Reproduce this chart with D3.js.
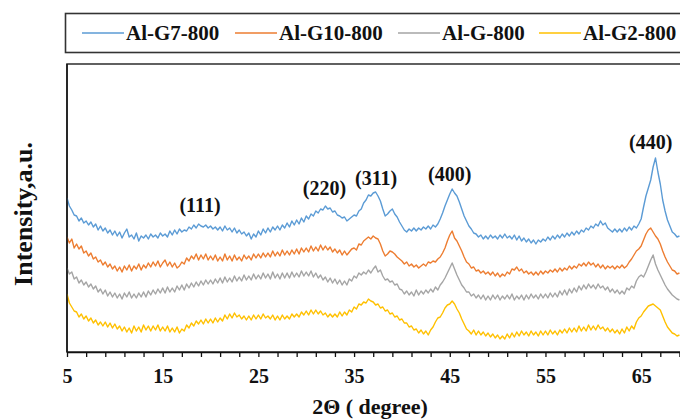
<!DOCTYPE html>
<html>
<head>
<meta charset="utf-8">
<script src="https://cdn.jsdelivr.net/npm/d3@7/dist/d3.min.js"></script>
<style>
  html, body { margin: 0; padding: 0; background: #fff; }
  svg { display: block; }
  text { font-family: "Liberation Serif", Tinos, "Times New Roman", "DejaVu Serif", serif; font-weight: bold; fill: #111; }
</style>
</head>
<body>
<svg id="chart" width="680" height="420"></svg>
<script>
// XRD patterns, 2θ sampled every 0.25° from 5° to 69°
const twoTheta = d3.range(0, 257).map(i => 5 + i * 0.25);

const seriesNames = ["Al-G7-800", "Al-G10-800", "Al-G-800", "Al-G2-800"];
const seriesColors = ["#5B9BD5", "#ED7D31", "#A5A5A5", "#FFC000"];

// Intensities (a.u., curves stacked with vertical offsets)
const alG7 = [
  154,146,142,137, 136,131,134,129, 131,127,130,125, 128,122,126,121,
  124,119,122,117, 121,116,120,114, 119,123,115,117, 113,119,111,116,
  114,117,113,118, 115,117,114,119, 116,118,115,121, 117,122,118,123,
  120,122,121,125, 123,127,124,128, 126,125,127,124, 126,123,125,122,
  125,121,126,122, 124,120,124,119, 122,118,120,116, 119,113,118,115,
  121,117,123,119, 124,120,125,122, 126,122,127,124, 129,125,131,127,
  132,128,134,130, 136,133,138,136, 141,139,143,142, 146,143,144,140,
  141,137,136,134, 135,131,133,135, 137,136,141,143, 149,152,157,156,
  159,160,156,151, 143,136,138,141, 143,138,135,130, 126,122,120,123,
  121,124,121,124, 122,125,123,126, 123,127,125,128, 133,139,146,152,
  158,163,159,156, 150,143,136,131, 126,123,119,118, 115,117,113,116,
  113,117,114,116, 113,117,114,118, 114,116,113,117, 112,116,111,114,
  110,113,109,112, 108,112,110,113, 111,115,112,116, 113,117,114,118,
  115,119,116,120, 117,121,118,122, 120,124,122,126, 124,128,126,131,
  127,129,124,122, 120,123,120,123, 120,124,121,125, 122,126,124,128,
  133,145,156,164, 172,185,194,180, 168,152,141,132, 126,120,118,115,
  116
];
const alG10 = [
  115,109,113,104, 108,103,106,99, 101,96,99,93, 95,90,92,87,
  90,85,88,83, 86,81,85,80, 86,82,87,81, 86,83,88,82,
  87,84,89,85, 90,86,91,85, 89,92,86,90, 85,89,84,86,
  90,88,94,91, 96,93,98,92, 97,93,98,92, 96,92,97,91,
  95,91,98,92, 96,91,97,92, 95,91,97,93, 96,92,98,94,
  98,94,99,95, 99,95,101,96, 100,96,102,97, 101,97,102,98,
  103,98,104,100, 104,100,106,101, 105,101,107,102, 106,102,105,100,
  103,99,102,97, 101,97,100,103, 104,102,108,107, 111,113,115,113,
  116,114,113,108, 101,96,98,101, 100,98,95,93, 91,88,90,86,
  88,85,87,84, 86,88,86,90, 89,91,90,93, 95,99,104,111,
  117,121,114,111, 106,101,95,90, 88,84,85,81, 82,79,81,78,
  80,77,80,76, 79,75,78,76, 80,78,83,82, 85,81,83,79,
  81,78,80,77, 80,77,81,78, 81,79,82,80, 83,80,84,81,
  84,82,86,83, 86,84,88,86, 89,86,90,87, 89,85,88,84,
  87,83,86,84, 86,83,86,84, 87,84,86,90, 93,97,101,103,
  106,112,118,122, 124,120,116,113, 108,101,95,90, 86,82,81,78,
  79
];
const alG = [
  84,78,80,73, 75,69,72,67, 70,65,68,63, 66,60,63,58,
  62,56,60,55, 59,54,58,53, 59,55,60,54, 58,54,59,55,
  60,55,61,57, 62,58,63,59, 64,59,65,60, 64,60,66,62,
  67,62,68,64, 69,65,70,66, 71,67,72,68, 72,68,73,69,
  74,69,75,70, 74,70,76,71, 75,71,77,72, 76,72,78,73,
  77,73,79,74, 78,73,80,74, 78,73,79,74, 79,74,80,75,
  79,75,81,76, 80,76,81,75, 79,74,77,72, 75,70,74,69,
  73,68,72,67, 71,67,73,71, 76,74,79,77, 80,78,82,79,
  83,86,80,82, 76,72,73,70, 71,67,68,63, 62,58,61,57,
  60,56,62,57, 61,58,62,59, 63,60,65,62, 67,70,74,79,
  84,89,83,77, 72,67,64,60, 60,56,58,54, 57,53,57,52,
  56,52,57,53, 57,52,56,53, 57,53,58,52, 56,53,57,52,
  57,53,58,54, 57,53,58,54, 58,54,59,55, 59,55,61,57,
  62,57,63,59, 64,60,66,62, 67,63,68,64, 67,63,68,64,
  66,62,65,60, 63,59,62,58, 61,58,64,62, 66,64,71,75,
  77,75,80,86, 92,97,88,82, 77,72,67,63, 60,57,55,53,
  52
];
const alG2 = [
  58,49,45,41, 40,35,38,33, 36,31,34,29, 32,27,30,26,
  30,25,29,24, 28,23,26,21, 25,20,24,19, 26,21,25,20,
  27,22,26,21, 26,22,27,21, 25,21,26,20, 24,20,25,19,
  23,21,27,24, 29,26,31,28, 32,28,33,29, 33,29,34,30,
  34,31,37,33, 38,34,39,35, 37,33,36,32, 36,32,37,33,
  37,33,38,34, 36,33,37,32, 36,32,37,33, 36,33,38,35,
  38,35,40,37, 41,37,42,38, 42,38,41,37, 39,35,38,35,
  38,35,40,36, 40,37,42,40, 45,43,48,47, 50,49,53,51,
  50,47,48,44, 45,41,42,38, 39,35,36,32, 33,29,29,25,
  26,22,23,19, 22,18,21,17, 22,25,30,34, 35,39,44,47,
  48,51,48,43, 39,33,28,23, 21,18,22,17, 21,17,20,16,
  19,15,18,14, 17,13,16,13, 18,14,19,15, 20,16,21,17,
  20,16,21,17, 20,16,21,17, 21,17,22,18, 21,17,22,19,
  23,19,24,20, 24,20,26,21, 25,21,27,22, 26,22,27,23,
  25,21,24,20, 23,19,22,18, 23,19,25,21, 26,23,30,34,
  36,40,43,46, 47,48,46,44, 42,36,30,25, 22,19,18,16,
  17
];
const seriesValues = [alG7, alG10, alG, alG2];

// Reflection labels: [text, 2θ position, intensity height]
const peakLabels = [
  ["(111)", 18.9, 140],
  ["(220)", 31.9, 157],
  ["(311)", 37.3, 167],
  ["(400)", 45.0, 171],
  ["(440)", 66.0, 203]
];

const xTickValues = d3.range(5, 70, 2);
const xLabelValues = [5, 15, 25, 35, 45, 55, 65];

const svg = d3.select("#chart");
const W = 680, H = 420;
const plot = { left: 67, top: 64, bottom: 352, right: 689 };
const serif = '"Liberation Serif", Tinos, "Times New Roman", "DejaVu Serif", serif';

svg.append("rect").attr("width", W).attr("height", H).attr("fill", "#fff");

const x = d3.scaleLinear().domain([5, 70]).range([plot.left, plot.right]);
const y = d3.scaleLinear().domain([0, 288]).range([plot.bottom, plot.top]);

// Plot-area frame
svg.append("rect")
  .attr("x", plot.left).attr("y", plot.top)
  .attr("width", plot.right - plot.left + 10).attr("height", plot.bottom - plot.top)
  .attr("fill", "none").attr("stroke", "#3a3a3a").attr("stroke-width", 1.6);

svg.append("clipPath").attr("id", "plotClip")
  .append("rect").attr("x", plot.left).attr("y", plot.top)
  .attr("width", W - plot.left).attr("height", plot.bottom - plot.top);

const line = d3.line()
  .x((d, i) => x(twoTheta[i]))
  .y(d => y(d));

const g = svg.append("g").attr("clip-path", "url(#plotClip)");
// draw bottom series first so the top pattern sits above
[3, 2, 1, 0].forEach(k => {
  g.append("path")
    .datum(seriesValues[k])
    .attr("d", line)
    .attr("fill", "none")
    .attr("stroke", seriesColors[k])
    .attr("stroke-width", 1.4)
    .attr("stroke-linejoin", "round");
});

// X axis
const xAxis = d3.axisBottom(x)
  .tickValues(xTickValues)
  .tickSize(5)
  .tickSizeOuter(0)
  .tickFormat(d => xLabelValues.includes(d) ? d : "");
const ax = svg.append("g").attr("transform", `translate(0,${plot.bottom})`).call(xAxis);
ax.attr("font-family", null).attr("font-size", null);
ax.select(".domain").attr("stroke", "#111").attr("stroke-width", 1.4);
ax.selectAll(".tick line").attr("stroke", "#111").attr("stroke-width", 1.3);
ax.selectAll(".tick text")
  .attr("y", 31).attr("dy", 0)
  .style("font-family", serif)
  .style("font-weight", "bold")
  .style("font-size", "20px")
  .attr("fill", "#111");

// Y axis line
svg.append("line")
  .attr("x1", plot.left).attr("x2", plot.left)
  .attr("y1", plot.top).attr("y2", plot.bottom)
  .attr("stroke", "#111").attr("stroke-width", 1.4);

// Axis titles
svg.append("text")
  .attr("x", 370).attr("y", 414)
  .attr("text-anchor", "middle")
  .style("font-size", "22px")
  .text("2Θ ( degree)");

svg.append("text")
  .attr("transform", "translate(32,214) rotate(-90)")
  .attr("text-anchor", "middle")
  .style("font-size", "26px")
  .text("Intensity,a.u.");

// Reflection labels
svg.selectAll(".peak").data(peakLabels).enter().append("text")
  .attr("class", "peak")
  .attr("x", d => x(d[1]))
  .attr("y", d => y(d[2]))
  .attr("text-anchor", "middle")
  .style("font-size", "20px")
  .text(d => d[0]);

// Legend
const legendBox = { x: 65.5, y: 13.5, h: 39 };
svg.append("rect")
  .attr("x", legendBox.x).attr("y", legendBox.y)
  .attr("width", W).attr("height", legendBox.h)
  .attr("fill", "#fff").attr("stroke", "#333").attr("stroke-width", 1.6);

const legendX = [82, 235, 398, 539];
const lg = svg.selectAll(".legend").data(seriesNames).enter().append("g")
  .attr("class", "legend")
  .attr("transform", (d, i) => `translate(${legendX[i]},${legendBox.y + legendBox.h / 2})`);
lg.append("line")
  .attr("x1", 0).attr("x2", 42).attr("y1", 0).attr("y2", 0)
  .attr("stroke", (d, i) => seriesColors[i]).attr("stroke-width", 1.6);
lg.append("text")
  .attr("x", 44).attr("y", 7)
  .style("font-size", "21px")
  .text(d => d);
</script>
</body>
</html>
